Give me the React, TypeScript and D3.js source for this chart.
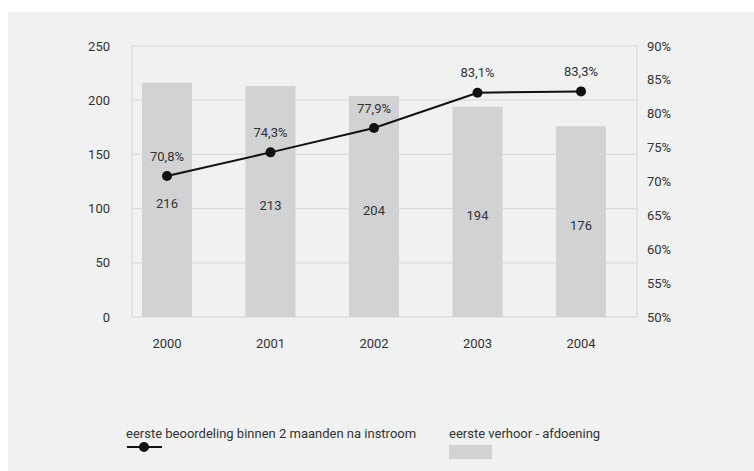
import { useEffect, useRef } from 'react';
import * as d3 from 'd3';

const YEARS = ['2000', '2001', '2002', '2003', '2004'];
const AFDOENING = [216, 213, 204, 194, 176];
const BEOORDELING = [70.8, 74.3, 77.9, 83.1, 83.3];
const LEFT_TICKS = [0, 50, 100, 150, 200, 250];
const RIGHT_TICKS = [50, 55, 60, 65, 70, 75, 80, 85, 90];

const LINE_LABEL = 'eerste beoordeling binnen 2 maanden na instroom';
const BAR_LABEL = 'eerste verhoor - afdoening';

const W = 754;
const H = 471;
const FONT = 'Roboto, "Noto Sans", sans-serif';

export default function App() {
  const svgRef = useRef<SVGSVGElement>(null);

  useEffect(() => {
    if (!svgRef.current) return;
    const svg = d3.select(svgRef.current);
    svg.selectAll('*').remove();

    // panel background
    svg.append('rect')
      .attr('x', 8).attr('y', 12)
      .attr('width', W - 8).attr('height', H - 12)
      .attr('fill', '#f0f1f1');

    const plot = { left: 132, right: 637, top: 46, bottom: 317 };

    const x = d3.scalePoint<string>()
      .domain(YEARS)
      .range([167, 581]);
    const barW = 50;

    const yL = d3.scaleLinear().domain([0, 250]).range([plot.bottom, plot.top]);
    const yR = d3.scaleLinear().domain([50, 90]).range([plot.bottom, plot.top]);

    // grid lines
    svg.selectAll('.grid')
      .data(LEFT_TICKS.slice(1, -1))
      .enter()
      .append('line')
      .attr('x1', plot.left).attr('x2', plot.right)
      .attr('y1', d => yL(d)).attr('y2', d => yL(d))
      .attr('stroke', '#d9dbdb')
      .attr('stroke-width', 1.2);

    // frame
    svg.append('rect')
      .attr('x', plot.left).attr('y', plot.top)
      .attr('width', plot.right - plot.left)
      .attr('height', plot.bottom - plot.top)
      .attr('fill', 'none')
      .attr('stroke', '#d9dbdb')
      .attr('stroke-width', 1.2);

    // bars
    svg.selectAll('.bar')
      .data(AFDOENING)
      .enter()
      .append('rect')
      .attr('x', (_, i) => (x(YEARS[i]) || 0) - barW / 2)
      .attr('y', d => yL(d))
      .attr('width', barW)
      .attr('height', d => plot.bottom - yL(d))
      .attr('fill', '#d1d2d4');

    const text = (sel: d3.Selection<any, any, any, any>) =>
      sel.style('font-family', FONT).style('font-size', '13px').attr('fill', '#333');

    // bar value labels
    svg.selectAll('.barlabel')
      .data(AFDOENING)
      .enter()
      .append('text')
      .attr('x', (_, i) => x(YEARS[i]) || 0)
      .attr('y', d => (yL(d) + plot.bottom) / 2 + 4)
      .attr('dy', '0.35em')
      .attr('text-anchor', 'middle')
      .call(text)
      .text(d => String(d));

    // line
    const line = d3.line<number>()
      .x((_, i) => x(YEARS[i]) || 0)
      .y(d => yR(d));
    svg.append('path')
      .datum(BEOORDELING)
      .attr('d', line)
      .attr('fill', 'none')
      .attr('stroke', '#111')
      .attr('stroke-width', 2);

    svg.selectAll('.dot')
      .data(BEOORDELING)
      .enter()
      .append('circle')
      .attr('cx', (_, i) => x(YEARS[i]) || 0)
      .attr('cy', d => yR(d))
      .attr('r', 5)
      .attr('fill', '#111');

    svg.selectAll('.linelabel')
      .data(BEOORDELING)
      .enter()
      .append('text')
      .attr('x', (_, i) => x(YEARS[i]) || 0)
      .attr('y', d => yR(d) - 20)
      .attr('dy', '0.35em')
      .attr('text-anchor', 'middle')
      .call(text)
      .text(d => d3.format('.1f')(d).replace('.', ',') + '%');

    // left axis labels
    svg.selectAll('.lt')
      .data(LEFT_TICKS)
      .enter()
      .append('text')
      .attr('x', 110)
      .attr('y', d => yL(d))
      .attr('dy', '0.35em')
      .attr('text-anchor', 'end')
      .call(text)
      .text(d => String(d));

    // right axis labels
    svg.selectAll('.rt')
      .data(RIGHT_TICKS)
      .enter()
      .append('text')
      .attr('x', 647)
      .attr('y', d => yR(d))
      .attr('dy', '0.35em')
      .attr('text-anchor', 'start')
      .call(text)
      .text(d => `${d}%`);

    // category labels
    svg.selectAll('.cat')
      .data(YEARS)
      .enter()
      .append('text')
      .attr('x', d => x(d) || 0)
      .attr('y', 343)
      .attr('dy', '0.35em')
      .attr('text-anchor', 'middle')
      .call(text)
      .text(d => d);

    // legend
    const lg = svg.append('g');
    lg.append('text')
      .attr('x', 126).attr('y', 433).attr('dy', '0.35em')
      .call(text).text(LINE_LABEL);
    lg.append('line')
      .attr('x1', 127).attr('x2', 162)
      .attr('y1', 447).attr('y2', 447)
      .attr('stroke', '#111').attr('stroke-width', 2);
    lg.append('circle')
      .attr('cx', 144).attr('cy', 447).attr('r', 5).attr('fill', '#111');

    lg.append('text')
      .attr('x', 449).attr('y', 433).attr('dy', '0.35em')
      .call(text).text(BAR_LABEL);
    lg.append('rect')
      .attr('x', 449).attr('y', 445)
      .attr('width', 43).attr('height', 14)
      .attr('fill', '#d1d2d4');
  }, []);

  return (
    <>
      <style>{`body{margin:0;background:#fff}`}</style>
      <svg ref={svgRef} width={W} height={H} style={{ display: 'block' }} />
    </>
  );
}
